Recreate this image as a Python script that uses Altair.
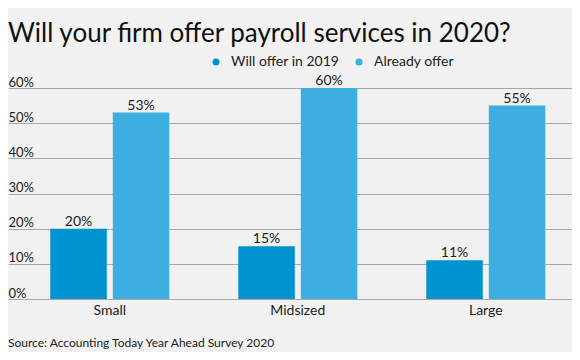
import altair as alt
import pandas as pd

sizes = ["Small", "Midsized", "Large"]
series = ["Will offer in 2019", "Already offer"]
will_offer_2019 = [0.20, 0.15, 0.11]
already_offer = [0.53, 0.60, 0.55]
y_ticks = [0, 0.1, 0.2, 0.3, 0.4, 0.5, 0.6]
title_text = "Will your firm offer payroll services in 2020?"
source_text = ["Source: Accounting Today Year Ahead Survey 2020"]
colors = ["#0093CF", "#3DAEE0"]

rows = []
for i, s in enumerate(sizes):
    rows.append({"size": s, "series": series[0], "value": will_offer_2019[i]})
    rows.append({"size": s, "series": series[1], "value": already_offer[i]})
df = pd.DataFrame(rows)
src = pd.DataFrame({"text": source_text})

FONT = "Lato"
TXT = "#222222"

x = alt.X(
    "size:N", sort=sizes, title=None,
    scale=alt.Scale(paddingInner=0.367, paddingOuter=0.1835, align=0.613),
    axis=alt.Axis(labelAngle=0, ticks=False, domain=True, domainColor="#a8a8a8",
                  labelFontSize=14, labelColor=TXT, labelPadding=4, labelFont=FONT, grid=False),
)
xoff = alt.XOffset("series:N", sort=series, scale=alt.Scale(paddingInner=0.096, paddingOuter=0))
y = alt.Y(
    "value:Q", title=None,
    scale=alt.Scale(domain=[0, 0.6], nice=False),
    axis=alt.Axis(values=y_ticks, format=".0%", orient="left", labelAlign="left",
                  labelPadding=0, labelOffset=-2, labelBaseline="alphabetic",
                  ticks=False, domain=False, grid=True, gridColor="#a8a8a8",
                  labelFontSize=13, labelFont=FONT, labelColor=TXT),
)
color = alt.Color(
    "series:N", sort=series,
    scale=alt.Scale(domain=series, range=colors),
    legend=alt.Legend(title=None, orient="none", legendX=201, legendY=-33,
                      direction="horizontal", symbolType="circle", symbolSize=49,
                      labelFontSize=14, labelFont=FONT, labelColor=TXT,
                      columnPadding=12, labelOffset=8, padding=0, symbolStrokeWidth=0),
)

bars = alt.Chart(df).mark_bar().encode(x=x, xOffset=xoff, y=y, color=color)
labels = alt.Chart(df).mark_text(
    baseline="alphabetic", dy=-3, fontSize=14, font=FONT, color=TXT
).encode(x=x, xOffset=xoff, y=y, text=alt.Text("value:Q", format=".0%"))
source = alt.Chart(src).mark_text(
    align="left", baseline="alphabetic", fontSize=12, font=FONT, color=TXT
).encode(x=alt.value(0), y=alt.value(259), text="text:N")

chart = alt.layer(bars, labels, source).properties(
    width=564, height=211,
    title=alt.TitleParams(title_text, anchor="start", frame="group", fontSize=26,
                          font=FONT, fontWeight="normal", color="#111111", offset=8),
    autosize=alt.AutoSizeParams(type="none"),
    padding={"left": 0, "top": 80, "right": 0, "bottom": 53},
).configure(background="#F0F1F0").configure_view(stroke=None)

chart.save("out.html", embed_options={"renderer": "svg", "actions": False})
